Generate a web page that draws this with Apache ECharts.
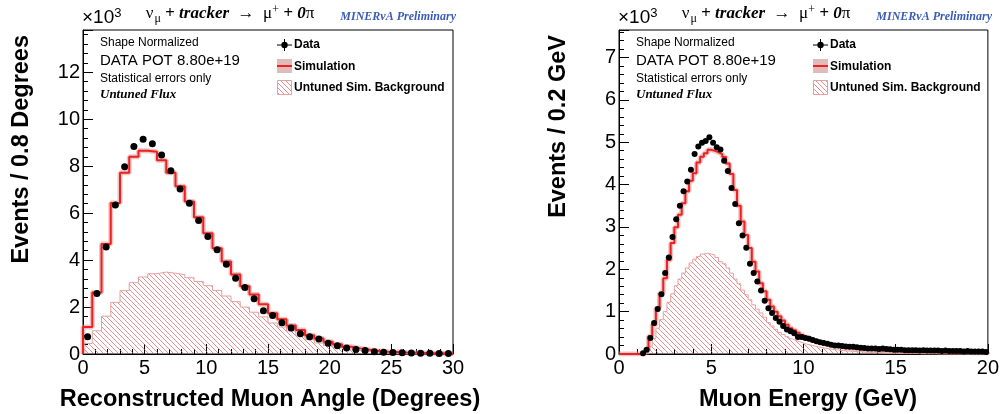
<!DOCTYPE html>
<html>
<head>
<meta charset="utf-8">
<script src="https://cdn.jsdelivr.net/npm/echarts@6/dist/echarts.min.js"></script>
<style>
  html, body { margin: 0; padding: 0; background: #fff; }
  #chart { width: 1002px; height: 414px; }
</style>
</head>
<body>
<div id="chart"></div>
<script>
// muon angle: 40 bins of 0.75 deg (x10^3 events)
const angleBinWidth = 0.75;
const angleData = [0.73, 2.58, 4.56, 6.35, 7.98, 8.84, 9.15, 8.96, 8.48, 7.80,
  7.03, 6.42, 5.69, 5.00, 4.44, 3.82, 3.23, 2.83, 2.35, 1.84,
  1.64, 1.33, 1.11, 0.86, 0.74, 0.64, 0.46, 0.35, 0.26, 0.19,
  0.15, 0.10, 0.07, 0.06, 0.05, 0.04, 0.03, 0.03, 0.02, 0.02];
const angleSim = [1.15, 2.62, 4.69, 6.43, 7.72, 8.40, 8.66, 8.61, 8.25, 7.72,
  7.15, 6.50, 5.82, 5.14, 4.50, 3.94, 3.39, 2.89, 2.53, 2.12,
  1.74, 1.48, 1.21, 1.02, 0.80, 0.66, 0.52, 0.42, 0.31, 0.24,
  0.18, 0.13, 0.10, 0.08, 0.06, 0.05, 0.04, 0.03, 0.03, 0.02];
const angleBkg = [0.45, 0.99, 1.61, 2.20, 2.70, 3.04, 3.28, 3.42, 3.49, 3.44,
  3.38, 3.25, 3.09, 2.91, 2.71, 2.47, 2.23, 2.00, 1.78, 1.58,
  1.32, 1.15, 0.98, 0.80, 0.61, 0.47, 0.36, 0.27, 0.20, 0.15,
  0.11, 0.08, 0.06, 0.04, 0.03, 0.02, 0.015, 0.01, 0.01, 0.01];

// muon energy: 100 bins of 0.2 GeV (x10^3 events), null = empty bin
const energyBinWidth = 0.2;
const energyData = [null, null, null, null, null, null, 0.02, 0.10, 0.38, 0.73,
  1.06, 1.41, 1.91, 2.28, 2.76, 3.18, 3.50, 3.84, 4.07, 4.35,
  4.72, 4.90, 4.99, 5.03, 5.12, 4.99, 4.88, 4.83, 4.56, 4.32,
  3.92, 3.54, 3.09, 2.80, 2.51, 2.13, 1.91, 1.71, 1.50, 1.26,
  1.08, 0.97, 0.85, 0.76, 0.66, 0.58, 0.54, 0.49, 0.40, 0.40,
  0.38, 0.36, 0.33, 0.30, 0.28, 0.26, 0.24, 0.22, 0.20, 0.20,
  0.19, 0.18, 0.17, 0.17, 0.16, 0.15, 0.14, 0.13, 0.13, 0.13,
  0.12, 0.13, 0.12, 0.11, 0.10, 0.10, 0.10, 0.09, 0.09, 0.09,
  0.09, 0.08, 0.09, 0.08, 0.08, 0.08, 0.08, 0.07, 0.08, 0.07,
  0.07, 0.07, 0.07, 0.06, 0.07, 0.06, 0.06, 0.06, 0.06, 0.05];
const energySim = [0, 0, 0, 0, 0, 0, 0, 0.10, 0.42, 0.69,
  1.08, 1.44, 1.79, 2.22, 2.62, 2.99, 3.29, 3.56, 3.84, 4.09,
  4.27, 4.52, 4.66, 4.74, 4.82, 4.80, 4.76, 4.72, 4.65, 4.50,
  4.25, 3.87, 3.50, 3.13, 2.81, 2.50, 2.18, 1.95, 1.67, 1.48,
  1.28, 1.12, 1.00, 0.89, 0.79, 0.69, 0.61, 0.56, 0.50, 0.45,
  0.40, 0.36, 0.32, 0.29, 0.26, 0.24, 0.22, 0.20, 0.18, 0.17,
  0.16, 0.15, 0.14, 0.13, 0.12, 0.11, 0.11, 0.10, 0.10, 0.09,
  0.09, 0.08, 0.08, 0.08, 0.07, 0.07, 0.07, 0.06, 0.06, 0.06,
  0.06, 0.05, 0.05, 0.05, 0.05, 0.05, 0.05, 0.04, 0.04, 0.04,
  0.04, 0.04, 0.04, 0.04, 0.04, 0.03, 0.03, 0.03, 0.03, 0.03];
const energyBkg = [0, 0, 0, 0, 0, 0, 0, 0, 0.18, 0.37,
  0.61, 0.81, 1.00, 1.22, 1.42, 1.61, 1.77, 1.91, 2.03, 2.15,
  2.24, 2.30, 2.36, 2.38, 2.36, 2.34, 2.28, 2.18, 2.13, 2.03,
  1.91, 1.77, 1.66, 1.51, 1.40, 1.28, 1.16, 1.06, 0.97, 0.87,
  0.74, 0.66, 0.58, 0.51, 0.46, 0.41, 0.36, 0.32, 0.29, 0.26,
  0.23, 0.21, 0.19, 0.17, 0.15, 0.14, 0.12, 0.11, 0.10, 0.09,
  0.08, 0.07, 0.07, 0.06, 0.05, 0.05, 0.04, 0.04, 0.03, 0.03,
  0.03, 0.02, 0.02, 0.02, 0.02, 0.01, 0.01, 0.01, 0.01, 0.01,
  0.01, 0.01, 0.01, 0.01, 0.01, 0.01, 0, 0, 0, 0,
  0, 0, 0, 0, 0, 0, 0, 0, 0, 0];

const RED = "#ee2020";
const BAND = "rgba(220, 140, 140, 0.5)";
const BKG_LINE = "#e6a0a0";
const SANS = "Liberation Sans";
const SERIF = "Liberation Serif";

// diagonal hatch used for the background histogram
function hatch() {
  const s = 5;
  const c = document.createElement("canvas");
  c.width = s;
  c.height = s;
  const g = c.getContext("2d");
  g.strokeStyle = "rgba(220, 90, 90, 0.75)";
  g.lineWidth = 0.9;
  g.beginPath();
  g.moveTo(-1, -1); g.lineTo(s + 1, s + 1);
  g.moveTo(-1, s - 1); g.lineTo(1, s + 1);
  g.moveTo(s - 1, -1); g.lineTo(s + 1, 1);
  g.stroke();
  return c;
}
const hatchCanvas = hatch();

// histogram outline points for a step line
function stepPoints(w, vals) {
  const pts = [[0, 0]];
  vals.forEach((v, i) => pts.push([i * w, v]));
  pts.push([vals.length * w, vals[vals.length - 1]]);
  pts.push([vals.length * w, 0]);
  return pts;
}
function dataPoints(w, vals) {
  return vals.map((v, i) => [(i + 0.5) * w, v]).filter(p => p[1] !== null);
}

function histSeries(idx, w, data, sim, bkg, markerSize) {
  return [
    {
      type: "line", xAxisIndex: idx, yAxisIndex: idx, step: "end",
      data: stepPoints(w, bkg), symbol: "none", z: 1,
      lineStyle: { color: BKG_LINE, width: 1 },
      areaStyle: { color: { image: hatchCanvas, repeat: "repeat" }, opacity: 1 },
    },
    {
      type: "line", xAxisIndex: idx, yAxisIndex: idx, step: "end",
      data: stepPoints(w, sim), symbol: "none", z: 2,
      lineStyle: { color: BAND, width: 5 },
    },
    {
      type: "line", xAxisIndex: idx, yAxisIndex: idx, step: "end",
      data: stepPoints(w, sim), symbol: "none", z: 3,
      lineStyle: { color: RED, width: 2 },
    },
    {
      type: "scatter", xAxisIndex: idx, yAxisIndex: idx, z: 5,
      data: dataPoints(w, data), symbol: "circle", symbolSize: markerSize,
      itemStyle: { color: "#000", opacity: 1 },
    },
  ];
}

function xAxis(idx, max) {
  return {
    gridIndex: idx, type: "value", min: 0, max: max, interval: 5,
    axisLine: { lineStyle: { color: "#000", width: 1 } },
    axisTick: { inside: true, length: 10, lineStyle: { color: "#000" } },
    minorTick: { show: true, splitNumber: 5, length: 5, lineStyle: { color: "#000" } },
    axisLabel: { color: "#000", fontSize: 20, fontFamily: SANS, margin: 4 },
    splitLine: { show: false },
  };
}
function yAxis(idx, max, step) {
  return {
    gridIndex: idx, type: "value", min: 0, max: max, interval: step,
    axisLine: { lineStyle: { color: "#000", width: 1 } },
    axisTick: { inside: true, length: 10, lineStyle: { color: "#000" } },
    minorTick: { show: true, splitNumber: 5, length: 5, lineStyle: { color: "#000" } },
    axisLabel: { color: "#000", fontSize: 20, fontFamily: SANS, margin: 3, showMaxLabel: false },
    splitLine: { show: false },
  };
}

// title, notes and legend of one panel; x0 = left edge of the plot frame
function panelText(x0) {
  return [
    {
      type: "text", x: x0 + 147, y: 14,
      style: {
        text: "{g|ν}{s|μ}{b| + tracker}{g|  →  μ}{p|+}{b| + 0}{g|π}",
        align: "center", verticalAlign: "middle",
        rich: {
          g: { fontFamily: SERIF, fontSize: 17, fill: "#000" },
          b: { fontFamily: SERIF, fontSize: 17, fontWeight: "bold", fontStyle: "italic", fill: "#000" },
          s: { fontFamily: SERIF, fontSize: 12, fill: "#000", padding: [9, 0, 0, 1] },
          p: { fontFamily: SERIF, fontSize: 12, fill: "#000", padding: [0, 0, 8, 0] },
        },
      },
    },
    {
      type: "text", x: x0 + 373, y: 17,
      style: {
        text: "MINERνA Preliminary", align: "right", verticalAlign: "middle",
        font: "italic bold 12px " + SERIF, fill: "#3a5cb5",
      },
    },
    {
      type: "text", x: x0 - 1, y: 18,
      style: {
        text: "{a|×10}{b|3}", align: "left", verticalAlign: "middle",
        rich: {
          a: { fontFamily: SANS, fontSize: 19, fill: "#000" },
          b: { fontFamily: SANS, fontSize: 13, fill: "#000", padding: [0, 0, 9, 0] },
        },
      },
    },
    { type: "text", x: x0 + 17, y: 43, style: { text: "Shape Normalized", font: "12px " + SANS, fill: "#000", verticalAlign: "middle" } },
    { type: "text", x: x0 + 17, y: 61, style: { text: "DATA POT 8.80e+19", font: "15px " + SANS, fill: "#000", verticalAlign: "middle" } },
    { type: "text", x: x0 + 17, y: 79, style: { text: "Statistical errors only", font: "12px " + SANS, fill: "#000", verticalAlign: "middle" } },
    { type: "text", x: x0 + 17, y: 95, style: { text: "Untuned Flux", font: "italic bold 13px " + SERIF, fill: "#000", verticalAlign: "middle" } },
    // legend: data
    { type: "line", shape: { x1: x0 + 194, y1: 45, x2: x0 + 209, y2: 45 }, style: { stroke: "#000", lineWidth: 1 } },
    { type: "line", shape: { x1: x0 + 201.5, y1: 39, x2: x0 + 201.5, y2: 51 }, style: { stroke: "#000", lineWidth: 1 } },
    { type: "circle", shape: { cx: x0 + 201.5, cy: 45, r: 3.2 }, style: { fill: "#000" } },
    { type: "text", x: x0 + 211, y: 45, style: { text: "Data", font: "bold 12px " + SANS, fill: "#000", verticalAlign: "middle" } },
    // legend: simulation
    { type: "rect", shape: { x: x0 + 194, y: 59, width: 15, height: 14 }, style: { fill: "rgba(205, 140, 140, 0.6)" } },
    { type: "line", shape: { x1: x0 + 194, y1: 66, x2: x0 + 209, y2: 66 }, style: { stroke: RED, lineWidth: 2 } },
    { type: "text", x: x0 + 211, y: 67, style: { text: "Simulation", font: "bold 12px " + SANS, fill: "#000", verticalAlign: "middle" } },
    // legend: background
    { type: "rect", shape: { x: x0 + 194.5, y: 80.5, width: 14, height: 14 }, style: { fill: { image: hatchCanvas, repeat: "repeat" }, stroke: BKG_LINE, lineWidth: 1 } },
    { type: "text", x: x0 + 211, y: 88, style: { text: "Untuned Sim. Background", font: "bold 12px " + SANS, fill: "#000", verticalAlign: "middle" } },
  ];
}

const axisTitles = [
  { type: "text", x: 22, y: 35, rotation: Math.PI / 2, style: { text: "Events / 0.8 Degrees", font: "bold 23.5px " + SANS, fill: "#000", align: "right", verticalAlign: "middle" } },
  { type: "text", x: 559, y: 35, rotation: Math.PI / 2, style: { text: "Events / 0.2 GeV", font: "bold 23.5px " + SANS, fill: "#000", align: "right", verticalAlign: "middle" } },
  { type: "text", x: 270, y: 400, style: { text: "Reconstructed Muon Angle (Degrees)", font: "bold 23.5px " + SANS, fill: "#000", align: "center", verticalAlign: "middle" } },
  { type: "text", x: 808, y: 400, style: { text: "Muon Energy (GeV)", font: "bold 23.5px " + SANS, fill: "#000", align: "center", verticalAlign: "middle" } },
];

const chart = echarts.init(document.getElementById("chart"));
chart.setOption({
  animation: false,
  backgroundColor: "#fff",
  grid: [
    { left: 83, right: 549, top: 30, bottom: 60, show: true, borderColor: "#000", borderWidth: 1 },
    { left: 619, right: 12, top: 30, bottom: 60, show: true, borderColor: "#000", borderWidth: 1 },
  ],
  xAxis: [xAxis(0, 30), xAxis(1, 20)],
  yAxis: [yAxis(0, 13.8, 2), yAxis(1, 7.65, 1)],
  series: [
    ...histSeries(0, angleBinWidth, angleData, angleSim, angleBkg, 7),
    ...histSeries(1, energyBinWidth, energyData, energySim, energyBkg, 6),
  ],
  graphic: [...panelText(83), ...panelText(619), ...axisTitles],
});
</script>
</body>
</html>
